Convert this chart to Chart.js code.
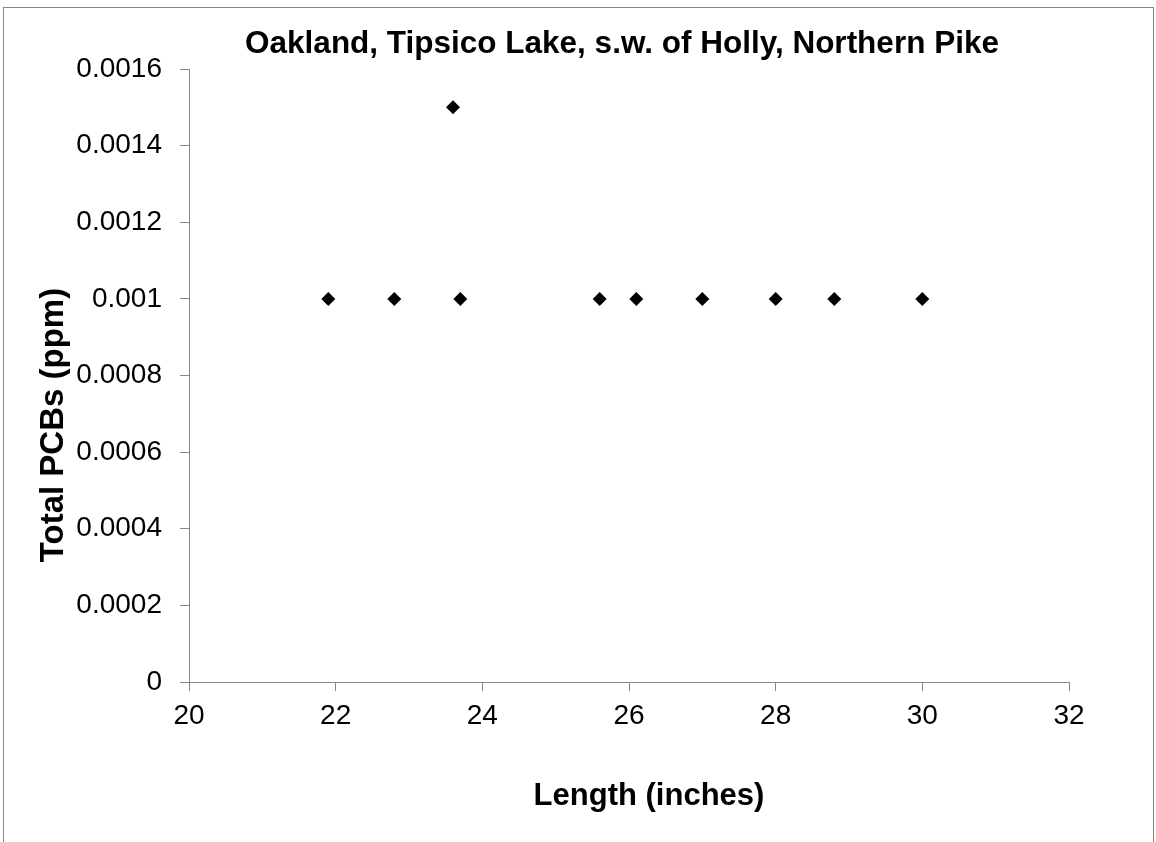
<!DOCTYPE html>
<html>
<head>
<meta charset="utf-8">
<script src="https://cdn.jsdelivr.net/npm/chart.js@4.4.1/dist/chart.umd.min.js"></script>
<style>
  html, body { margin: 0; padding: 0; background: #fff; }
  #wrap { width: 1156px; height: 842px; position: relative; }
</style>
</head>
<body>
<div id="wrap"><canvas id="pike-chart"></canvas></div>
<script>
// fish length (inches) and total PCBs (ppm)
const lengths = [21.9, 22.8, 23.6, 23.7, 25.6, 26.1, 27.0, 28.0, 28.8, 30.0]
const pcbs = [0.001, 0.001, 0.0015, 0.001, 0.001, 0.001, 0.001, 0.001, 0.001, 0.001]
const xTicks = [20, 22, 24, 26, 28, 30, 32]
const yTicks = [0, 0.0002, 0.0004, 0.0006, 0.0008, 0.001, 0.0012, 0.0014, 0.0016]

const chartTitle = 'Oakland, Tipsico Lake, s.w. of Holly, Northern Pike'
const xTitle = 'Length (inches)'
const yTitle = 'Total PCBs (ppm)'

const axisGray = '#868686'
const fontFamily = '"Liberation Sans", Arial, sans-serif'

// frame + titles placed like the excel export
const decorations = {
  id: 'decorations',
  beforeDraw(chart) {
    let ctx = chart.ctx
    ctx.save()
    ctx.fillStyle = '#fff'
    ctx.fillRect(0, 0, chart.width, chart.height)
    ctx.strokeStyle = axisGray
    ctx.lineWidth = 1
    ctx.strokeRect(3.5, 7.5, 1150, 900)
    ctx.restore()
  },
  afterDraw(chart) {
    let ctx = chart.ctx
    ctx.save()
    ctx.fillStyle = '#000'
    ctx.textAlign = 'center'
    ctx.textBaseline = 'middle'

    ctx.font = `bold 31.5px ${fontFamily}`
    ctx.fillText(chartTitle, 622, 44)

    ctx.font = `bold 31px ${fontFamily}`
    ctx.fillText(xTitle, 649, 796)

    ctx.font = `bold 33px ${fontFamily}`
    ctx.translate(54, 425)
    ctx.rotate(-Math.PI / 2)
    ctx.fillText(yTitle, 0, 0)
    ctx.restore()
  }
}

new Chart(document.querySelector('#pike-chart'), {
  type: 'scatter',
  data: {
    datasets: [{
      data: lengths.map((x, i) => ({ x: x, y: pcbs[i] })),
      pointStyle: 'rectRot',
      pointRadius: 7,
      pointHoverRadius: 7,
      backgroundColor: '#000',
      borderWidth: 0
    }]
  },
  options: {
    responsive: true,
    maintainAspectRatio: false,
    animation: false,
    events: [],
    layout: { padding: { top: 69, right: 87, bottom: 0, left: 0 } },
    plugins: {
      legend: { display: false },
      tooltip: { enabled: false }
    },
    scales: {
      x: {
        type: 'linear',
        min: xTicks[0],
        max: xTicks[xTicks.length - 1],
        afterBuildTicks: axis => { axis.ticks = xTicks.map(v => ({ value: v })) },
        afterFit: axis => { axis.height = 160 },
        border: { display: true, color: axisGray, width: 1 },
        grid: { display: true, drawOnChartArea: false, drawTicks: true, tickLength: 9, color: axisGray },
        ticks: {
          padding: 8,
          color: '#000',
          font: { family: fontFamily, size: 28 },
          callback: v => String(v)
        }
      },
      y: {
        type: 'linear',
        min: yTicks[0],
        max: yTicks[yTicks.length - 1],
        afterBuildTicks: axis => { axis.ticks = yTicks.map(v => ({ value: v })) },
        afterFit: axis => { axis.width = 189 },
        border: { display: true, color: axisGray, width: 1 },
        grid: { display: true, drawOnChartArea: false, drawTicks: true, tickLength: 9, color: axisGray },
        ticks: {
          padding: 18,
          color: '#000',
          font: { family: fontFamily, size: 28 },
          callback: v => String(Number(v.toFixed(4)))
        }
      }
    }
  },
  plugins: [decorations]
})
</script>
</body>
</html>
